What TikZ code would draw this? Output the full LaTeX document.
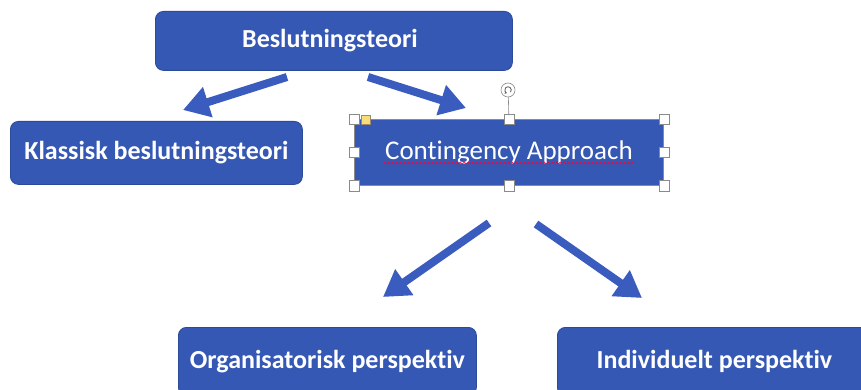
\documentclass[tikz,border=0pt]{standalone}
\usepackage{fontspec}
\setmainfont{Carlito}[Ligatures={NoCommon}]
\usetikzlibrary{arrows.meta,decorations.pathmorphing}
\definecolor{boxblue}{HTML}{3558B5}
\definecolor{boxedge}{HTML}{2C4A9A}
\definecolor{arrblue}{HTML}{3A5CBF}
\definecolor{handlegray}{HTML}{8A8A8A}
\definecolor{handleyellow}{HTML}{F7DC7A}
\tikzset{
  box/.style={draw=boxedge, line width=0.8pt, fill=boxblue, rounded corners=8pt,
    text=white, font=\bfseries\fontsize{26}{28}\selectfont, inner sep=0pt, anchor=north west},
  selbox/.style={draw=handlegray, line width=0.8pt, fill=boxblue,
    text=white, font=\fontsize{27}{29}\selectfont, inner sep=0pt, anchor=north west},
  blockarrow/.style={draw=arrblue, line width=8pt,
    -{Triangle[length=26pt,width=30pt]}},
  handle/.style={draw=handlegray, fill=white, line width=0.6pt, minimum size=10pt, inner sep=0pt},
}
\begin{document}
\begin{tikzpicture}[x=1pt,y=-1pt]
\useasboundingbox (0,0) rectangle (861,390);
\clip (0,0) rectangle (861,390);
% boxes
\node[box, minimum width=357pt, minimum height=59pt] (top) at (155,11) {Beslutningsteori\hspace*{8pt}};
\node[box, minimum width=292pt, minimum height=63pt] (klas) at (10,121) {Klassisk beslutningsteori};
\node[selbox, minimum width=309pt, minimum height=66pt] (cont) at (354,119) {Contingency Approach};
\node[box, minimum width=298pt, minimum height=68pt] (org) at (178,327) {Organisatorisk perspektiv};
\node[box, minimum width=314pt, minimum height=68pt] (ind) at (557,327) {Individuelt perspektiv};
% spell-check underline
\coordinate (sqA) at (383,163);
\coordinate (sqB) at (634,163);
\draw[red!80!magenta, line width=0.6pt, decorate, decoration={snake, amplitude=1pt, segment length=4pt}] (sqA) -- (sqB);
% arrows
\coordinate (a1s) at (287,77);
\coordinate (a1e) at (183,110);
\coordinate (a2s) at (368,77);
\coordinate (a2e) at (466,108);
\coordinate (a3s) at (489,223);
\coordinate (a3e) at (383,297);
\coordinate (a4s) at (536,224);
\coordinate (a4e) at (642,298);
\draw[blockarrow] (a1s) -- (a1e);
\draw[blockarrow] (a2s) -- (a2e);
\draw[blockarrow] (a3s) -- (a3e);
\draw[blockarrow] (a4s) -- (a4e);
% selection handles
\coordinate (rot) at (508,90);
\draw[handlegray, line width=0.6pt] (cont.north) -- ([yshift=7pt]rot);
\node[draw=handlegray, fill=white, circle, minimum size=14pt, inner sep=0pt, line width=0.6pt] (roth) at (rot) {};
\draw[gray!70!black, line width=0.8pt, -{Stealth[length=2.2pt,width=2.8pt]}] ([shift={(-40:3.3pt)}]rot) arc[start angle=-40, end angle=250, radius=3.3pt];
\node[handle] (h1) at (cont.north west) {};
\node[handle] (h2) at (cont.north) {};
\node[handle] (h3) at (cont.north east) {};
\node[handle] (h4) at (cont.west) {};
\node[handle] (h5) at (cont.east) {};
\node[handle] (h6) at (cont.south west) {};
\node[handle] (h7) at (cont.south) {};
\node[handle] (h8) at (cont.south east) {};
\node[draw=handlegray!80!orange, fill=handleyellow, line width=0.5pt, minimum size=9pt, inner sep=0pt] (adj) at (366,120) {};
\end{tikzpicture}
\end{document}
